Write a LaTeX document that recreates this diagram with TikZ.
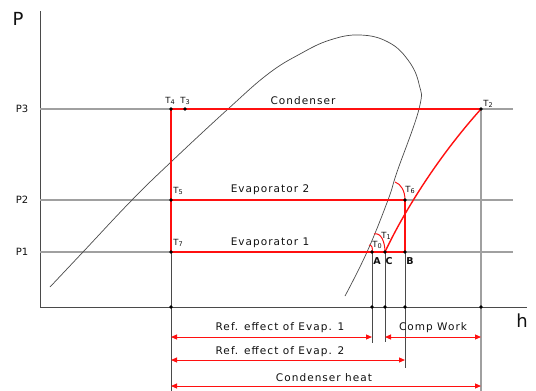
\documentclass[tikz,border=0pt]{standalone}
\usepackage{fontspec}
\setmainfont{DejaVu Sans}
\newfontfamily\lblfont[LetterSpace=10]{DejaVu Sans}
\usetikzlibrary{arrows.meta}
\definecolor{phred}{HTML}{FF1010}
\definecolor{phgray1}{HTML}{4A4A4A}
\definecolor{phgray2}{HTML}{A0A0A0}
\definecolor{phtext}{HTML}{101010}

% temperature label with small index
\newcommand{\tsub}[1]{T\raisebox{-0.9pt}{\fontsize{6.5}{6.5}\selectfont #1}}

\begin{document}
\begin{tikzpicture}[x=1pt, y=-1pt, font=\lblfont\fontsize{10.5}{11}\selectfont, text=phtext]

\useasboundingbox (0,0) rectangle (536,391);

% Styles
\tikzset{
  axis line/.style={phgray1, line width=1pt},
  isobar/.style={phgray2, line width=1.1pt},
  guide/.style={phgray1, line width=0.9pt},
  guideL/.style={phgray2, line width=1.1pt},
  cycle line/.style={phred, line width=1.4pt},
  dome/.style={phgray1, line width=0.7pt},
  heat arrow/.style={phred, line width=1pt, {Triangle[length=6pt,width=5pt]}-{Triangle[length=6pt,width=5pt]}},
  plbl/.style={font=\fontsize{10}{10}\selectfont, inner sep=0pt},
  tlbl/.style={font=\fontsize{8.5}{8.5}\selectfont, inner sep=0pt},
  ptlbl/.style={font=\fontsize{9.5}{9.5}\selectfont\bfseries, inner sep=0pt},
  big/.style={font=\fontsize{18}{18}\selectfont, inner sep=0pt}
}

% -- State points --
\coordinate (T4) at (171,109);
\coordinate (T3) at (185,109);
\coordinate (T2) at (481,109);
\coordinate (T5) at (171,200);
\coordinate (T6) at (405,200);
\coordinate (T7) at (171,252);
\coordinate (A) at (372,252);
\coordinate (C) at (385,252);
\coordinate (B) at (405,252);

% Axes
\coordinate (O) at (40,307);
\draw[axis line] (40,11) -- (O) -- (527,307);
\node[big] (Plbl) at (18,19) {P};
\node[big] (hlbl) at (522,321) {h};

% Isobars
\foreach \p/\y in {3/109, 2/200, 1/252} {
    \draw[isobar] (40,\y) -- (513,\y);
    \node[plbl] (P\p) at (22,\y) {P\p};
}

% Saturation dome
\draw[dome] plot[smooth, tension=0.7] coordinates {
    (50,287) (83,252) (132,200) (171,162) (228,109) (268,74) (300,54)
    (330,40) (360,35) (388,42) (408,60) (419,84) (419,109) (397,172)
    (388,200) (367,252) (345,296)};

% Guide lines down to the h axis
\draw[guide] (T7) -- (171,391);
\draw[guide] (A) -- (372,343);
\draw[guide] (C) -- (385,342);
\draw[guide] (B) -- (405,368);
\draw[guideL] (T2) -- (481,391);

% Refrigeration cycle
\draw[cycle line] (T4) -- (T2);
\draw[cycle line] (T4) -- (T7);
\draw[cycle line] (T5) -- (T6) -- (B);
\draw[cycle line] (T7) -- (B);
\draw[cycle line] (C) .. controls (398,224) and (430,166) .. (T2);

% Isotherm arcs
\coordinate (d0) at (369,245);
\coordinate (d1) at (374,234);
\coordinate (d6) at (395,182);
\draw[phred, line width=1pt] (d0) .. controls (372,245) and (373,248) .. (A);
\draw[phred, line width=1pt] (d1) .. controls (381,232) and (385,242) .. (C);
\draw[phred, line width=1pt] (d6) .. controls (401,184) and (405,191) .. (T6);

% Dots
\foreach \pt in {T4,T3,T2,T5,T6,T7,A,C,B} {
    \fill (\pt) circle (1.8pt);
}
\foreach \x in {171,372,385,405,481} {
    \fill (\x,307) circle (1.8pt);
}

% Point labels
\node[tlbl] (lT4) at (170,101) {\tsub{4}};
\node[tlbl] (lT3) at (185,101) {\tsub{3}};
\node[tlbl] (lT2) at (488,104) {\tsub{2}};
\node[tlbl] (lT5) at (178,191) {\tsub{5}};
\node[tlbl] (lT7) at (178,243) {\tsub{7}};
\node[tlbl] (lT6) at (410,190) {\tsub{6}};
\node[tlbl] (lT1) at (386,236) {\tsub{1}};
\node[tlbl] (lT0) at (377,245) {\tsub{0}};
\node[ptlbl] (lA) at (377,261) {A};
\node[ptlbl] (lC) at (389,261) {C};
\node[ptlbl] (lB) at (410,261) {B};

% Process labels
\node (cond) at (303,101) {Condenser};
\node (evap2) at (270,190) {Evaporator 2};
\node (evap1) at (270,243) {Evaporator 1};

% -- Enthalpy differences --
\coordinate (r1a) at (171,337);
\coordinate (r1b) at (372,337);
\coordinate (cwa) at (385,337);
\coordinate (cwb) at (481,337);
\coordinate (r2a) at (171,360);
\coordinate (r2b) at (405,360);
\coordinate (cha) at (171,386);
\coordinate (chb) at (481,386);
\draw[heat arrow] (r1a) -- (r1b);
\draw[heat arrow] (cwa) -- (cwb);
\draw[heat arrow] (r2a) -- (r2b);
\draw[heat arrow] (cha) -- (chb);
\node (lr1) at (280,328) {Ref. effect of Evap. 1};
\node (lcw) at (433,328) {Comp Work};
\node (lr2) at (280,352) {Ref. effect of Evap. 2};
\node (lch) at (324,378) {Condenser heat};

\end{tikzpicture}
\end{document}
